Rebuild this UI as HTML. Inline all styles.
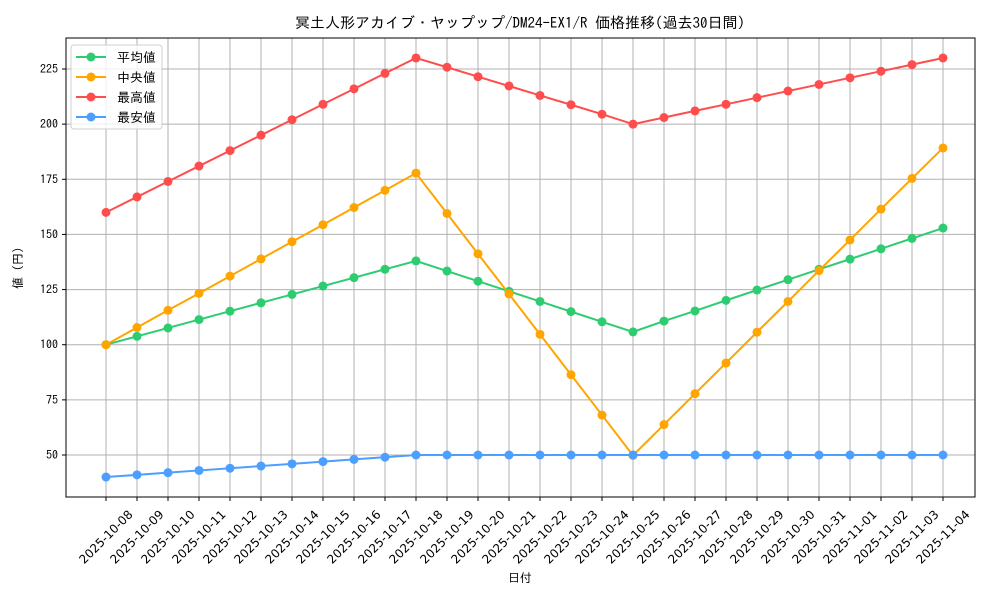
<!DOCTYPE html>
<html><head><meta charset="utf-8"><style>
body{margin:0;background:#fff;}
svg text{font-family:"IPAGothic","Noto Sans CJK JP",sans-serif;fill:#000;}
svg text.xt{font-family:"DejaVu Sans","Liberation Sans",sans-serif;}
</style></head><body>
<svg id="chart" width="1000" height="600" xmlns="http://www.w3.org/2000/svg">
<rect width="1000" height="600" fill="#fff"/>
<text x="520" y="28" font-size="15" text-anchor="middle">冥土人形アカイブ・ヤップップ/DM24-EX1/R 価格推移(過去30日間)</text>
<g id="grid"></g>
<g id="series"></g>
<rect x="66" y="38" width="909" height="459" fill="none" stroke="#000" stroke-width="1"/>
<g id="axes"></g>
<text x="520" y="582" font-size="12" text-anchor="middle">日付</text>
<text transform="translate(22,268) rotate(-90)" font-size="12" text-anchor="middle">値 (円)</text>
<g id="legend"></g>
</svg>
<script>
const dates=["2025-10-08","2025-10-09","2025-10-10","2025-10-11","2025-10-12","2025-10-13","2025-10-14","2025-10-15","2025-10-16","2025-10-17","2025-10-18","2025-10-19","2025-10-20","2025-10-21","2025-10-22","2025-10-23","2025-10-24","2025-10-25","2025-10-26","2025-10-27","2025-10-28","2025-10-29","2025-10-30","2025-10-31","2025-11-01","2025-11-02","2025-11-03","2025-11-04"];
const avgValues=[100,103.8,107.6,111.4,115.2,119,122.8,126.6,130.4,134.2,138,133.4,128.8,124.2,119.6,115,110.4,105.8,110.7,115.3,120.1,124.8,129.5,134.2,138.8,143.5,148.2,152.9];
const medianValues=[100,107.8,115.6,123.3,131.1,138.9,146.7,154.4,162.2,170,177.8,159.5,141.2,123,104.7,86.4,68.1,49.8,63.8,77.8,91.7,105.7,119.6,133.6,147.5,161.5,175.4,189.2];
const maxValues=[160,167,174,181,188,195,202,209,216,223,230,225.8,221.5,217.3,213,208.8,204.5,200,203,206,209,212,215,218,221,224,227,230];
const minValues=[40,41,42,43,44,45,46,47,48,49,50,50,50,50,50,50,50,50,50,50,50,50,50,50,50,50,50,50];
const yTicks=[50,75,100,125,150,175,200,225];
const seriesNames=["平均値","中央値","最高値","最安値"];
const NS="http://www.w3.org/2000/svg";
function mk(t,a,p){const e=document.createElementNS(NS,t);for(const k in a)e.setAttribute(k,a[k]);p.appendChild(e);return e;}
const x0=106,x1=943;
function xs(i){return x0+(x1-x0)*i/(dates.length-1);}
function ys(v){return 455-(v-50)*(455-69)/175;}
const grid=document.getElementById('grid'),axes=document.getElementById('axes'),ser=document.getElementById('series');
dates.forEach((d,i)=>{
 const x=xs(i);
 const g=mk('line',{x1:x,x2:x,y1:38,y2:497,stroke:'#b0b0b0','stroke-width':1},grid);
 
 
 mk('line',{x1:x,x2:x,y1:497,y2:501,stroke:'#000'},axes);
 const t=mk('text',{transform:`translate(${x},${537}) rotate(-45)`,'font-size':12,'text-anchor':'middle',dy:4,'class':'xt'},axes);
 t.textContent=d;
 
 
});
yTicks.forEach(v=>{
 const y=ys(v);
 const g=mk('line',{x1:66,x2:975,y1:y,y2:y,stroke:'#b0b0b0','stroke-width':1},grid);
 
 
 mk('line',{x1:62,x2:66,y1:y,y2:y,stroke:'#000'},axes);
 const t=mk('text',{x:58,y:y+4,'font-size':12,'text-anchor':'end'},axes);
 t.textContent=v;
 
 
});
const colors=['#2ecc71','#ffa500','#ff4d4d','#4d9fff'];
const data=[avgValues,medianValues,maxValues,minValues];
const names=['series-average','series-median','series-max','series-min'];
data.forEach((arr,s)=>{
 const g=mk('g',{},ser);
 
 
 mk('polyline',{points:arr.map((v,i)=>xs(i)+','+ys(v)).join(' '),fill:'none',stroke:colors[s],'stroke-width':2},g);
 arr.forEach((v,i)=>{
  const c=mk('circle',{cx:xs(i),cy:ys(v),r:4.5,fill:colors[s]},g);
  
  
 });
});
const lg=document.getElementById('legend');
mk('rect',{x:71,y:45,width:91,height:84,rx:3,fill:'#fff','fill-opacity':0.8,stroke:'#d0d0d0'},lg);
seriesNames.forEach((n,i)=>{
 const y=57+i*20;
 const e=mk('g',{},lg);
 
 
 mk('line',{x1:76,x2:106,y1:y,y2:y,stroke:colors[i],'stroke-width':2},e);
 mk('circle',{cx:91,cy:y,r:4.5,fill:colors[i]},e);
 const t=mk('text',{x:117,y:y+5,'font-size':13},e);
 t.textContent=n;
});
</script>
</body></html>
